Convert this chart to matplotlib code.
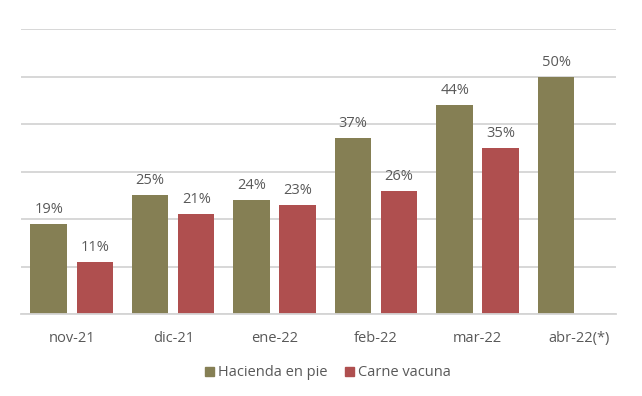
import numpy as np
import matplotlib.pyplot as plt
from matplotlib.patches import Patch

# data
months = ['nov-21', 'dic-21', 'ene-22', 'feb-22', 'mar-22', 'abr-22(*)']
hacienda = [19, 25, 24, 37, 44, 50]
carne = [11, 21, 23, 26, 35, np.nan]

olive = '#857F54'
red = '#AF4F4F'
txt = '#595959'
grid = '#D4D4D4'

plt.rcParams['font.family'] = ['Open Sans', 'DejaVu Sans']

fig = plt.figure(figsize=(6.42, 3.96), dpi=100)
ax = fig.add_axes([21 / 642, 1 - 314 / 396, (616 - 21) / 642, (314 - 29) / 396])

x = np.arange(len(months))
w = 0.36
off = 0.227
b1 = ax.bar(x - off, hacienda, w, color=olive, zorder=2)
b2 = ax.bar(x + off, carne, w, color=red, zorder=2)

# value labels above each bar
for bars, vals in ((b1, hacienda), (b2, carne)):
    for rect, v in zip(bars, vals):
        if np.isnan(v):
            continue
        ax.annotate(f'{v:.0f}%', (rect.get_x() + rect.get_width() / 2, v),
                    xytext=(0, 5), textcoords='offset points',
                    ha='center', va='bottom', fontsize=10.5, color=txt)

ax.set_xlim(-0.5, 5.364)
ax.set_ylim(0, 60)
ax.set_yticks(np.arange(0, 61, 10))
ax.set_yticklabels([])
ax.tick_params(axis='y', length=0)
ax.yaxis.grid(True, color=grid, linewidth=1.3, zorder=0)
ax.set_xticks(x)
ax.set_xticklabels(months, fontsize=10.5, color=txt)
ax.tick_params(axis='x', length=0, pad=12)
for s in ('top', 'right', 'left'):
    ax.spines[s].set_visible(False)
ax.spines['bottom'].set_color(grid)
ax.spines['bottom'].set_linewidth(1.3)

handles = [Patch(color=olive, label='Hacienda en pie'),
           Patch(color=red, label='Carne vacuna')]
fig.legend(handles=handles, loc='center', bbox_to_anchor=(328 / 642, 1 - 373 / 396),
           ncol=2, frameon=False, fontsize=10.5, labelcolor=txt,
           handlelength=0.6, handleheight=0.6, handletextpad=0.3, columnspacing=1.2)

fig.savefig('out.png', dpi=100)
